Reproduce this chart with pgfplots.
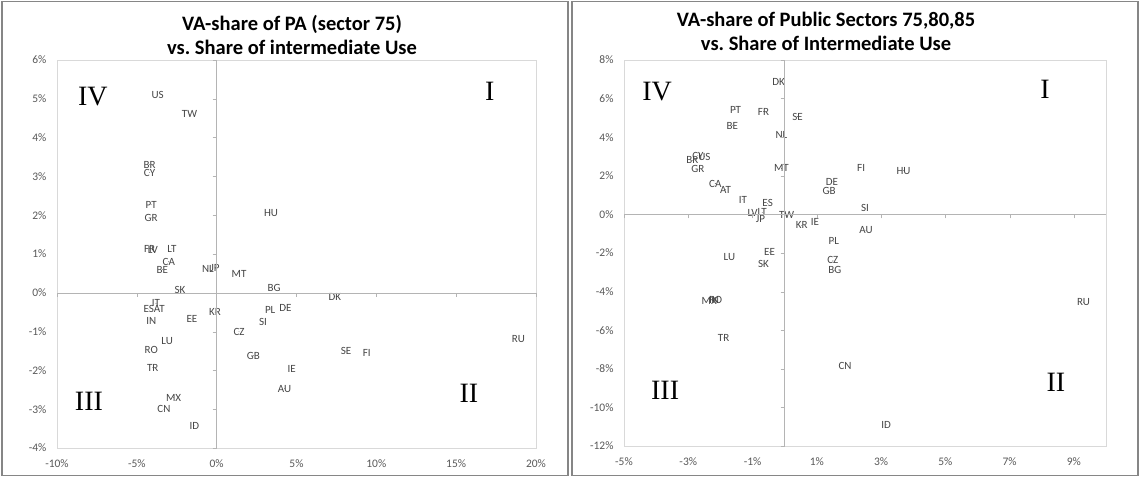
\documentclass[border=0pt]{standalone}
\usepackage{fontspec}
\setmainfont{Carlito}
\newfontfamily\romanfont{Liberation Serif}
\usepackage{pgfplots}
\usepackage{pgfplotstable}
\pgfplotsset{compat=1.18}

\definecolor{frame}{RGB}{134,134,134}
\definecolor{plotedge}{RGB}{217,217,217}
\definecolor{zeroline}{RGB}{180,180,180}
\definecolor{ticktext}{RGB}{89,89,89}
\definecolor{lbl}{RGB}{70,70,70}

% left panel: VA-share of PA (sector 75)
\pgfplotstableread{
x y c
-3.7 5.1 US
-1.7 4.6 TW
-4.2 3.3 BR
-4.2 3.1 CY
-4.1 2.27 PT
-4.1 1.93 GR
3.4 2.06 HU
-4.2 1.14 FR
-4.0 1.11 LV
-2.8 1.13 LT
-3.0 0.8 CA
-3.4 0.6 BE
-0.55 0.62 NL
-0.1 0.65 JP
1.4 0.49 MT
-2.3 0.08 SK
3.6 0.13 BG
-3.8 -0.27 IT
-4.25 -0.42 ES
-3.6 -0.42 AT
-4.1 -0.72 IN
-1.55 -0.68 EE
-0.1 -0.5 KR
3.35 -0.44 PL
4.3 -0.38 DE
2.9 -0.74 SI
1.4 -1.0 CZ
-3.1 -1.24 LU
-4.1 -1.47 RO
2.3 -1.62 GB
-4.0 -1.93 TR
4.7 -1.96 IE
4.25 -2.47 AU
-2.7 -2.7 MX
-3.3 -3.0 CN
-1.4 -3.43 ID
7.4 -0.1 DK
8.1 -1.5 SE
9.4 -1.55 FI
18.9 -1.19 RU
}\leftdata

% right panel: VA-share of public sectors 75,80,85
\pgfplotstableread{
x y c
-0.19 6.87 DK
-1.53 5.43 PT
-0.66 5.32 FR
0.4 5.06 SE
-1.63 4.6 BE
-0.1 4.1 NL
-2.7 3.05 CY
-2.5 3.0 US
-2.87 2.8 BR
-2.7 2.33 GR
-0.1 2.38 MT
-2.16 1.6 CA
-1.84 1.28 AT
1.47 1.7 DE
1.38 1.2 GB
-1.3 0.77 IT
-0.53 0.57 ES
-1.0 0.05 LV
-0.7 0.1 LT
-0.75 -0.26 JP
0.06 -0.05 TW
0.53 -0.57 KR
0.94 -0.4 IE
1.53 -1.4 PL
-0.47 -1.96 EE
-1.72 -2.2 LU
-0.66 -2.58 SK
1.5 -2.38 CZ
1.56 -2.9 BG
2.38 2.42 FI
3.7 2.27 HU
2.5 0.31 SI
2.53 -0.83 AU
9.3 -4.55 RU
1.88 -7.85 CN
3.16 -10.9 ID
-2.35 -4.5 MX
-2.2 -4.45 IN
-2.15 -4.45 RO
-1.9 -6.4 TR
}\rightdata

\tikzset{quadrant/.style={font=\romanfont\fontsize{28}{30}\selectfont}}

\pgfplotsset{
  panel/.style={
    scale only axis, anchor=south west, clip=false,
    axis line style={plotedge},
    major tick length=0pt,
    scaled ticks=false,
    tick label style={font=\fontsize{11.5}{13}\selectfont, text=ticktext},
    /pgf/number format/assume math mode=true,
    xticklabel={\pgfmathprintnumber{\tick}\%},
    yticklabel={\pgfmathprintnumber{\tick}\%},
    xticklabel style={yshift=-8pt},
    yticklabel style={xshift=-7pt},
  },
  zeroaxes/.style={
    scale only axis, anchor=south west,
    axis lines=middle,
    axis line style={zeroline,-},
    xticklabels={}, yticklabels={},
    tick style={zeroline},
    major tick length=4pt,
    tick align=outside,
  },
  labels/.style={
    only marks, mark=*, mark size=0.01pt, mark options={draw=none, fill=none},
    nodes near coords, point meta=explicit symbolic,
    every node near coord/.append style={anchor=center, inner sep=0pt,
      font=\fontsize{11}{12}\selectfont, text=lbl},
  },
}

\begin{document}
\begin{tikzpicture}
\fill[white] (0,0) rectangle (1140pt,477pt);
\useasboundingbox (0,0) rectangle (1140pt,477pt);

\draw[frame, line width=1.3pt] (2pt,1.5pt) rectangle (568pt,475.5pt);
\draw[frame, line width=1.3pt] (572pt,1.5pt) rectangle (1138pt,475.5pt);

% titles
\node[anchor=base, font=\bfseries\fontsize{20.5}{24}\selectfont] at (292pt,446pt) {VA-share of PA (sector 75)};
\node[anchor=base, font=\bfseries\fontsize{20.5}{24}\selectfont] at (292pt,422pt) {vs.\ Share of intermediate Use};
\node[anchor=base, font=\bfseries\fontsize{20.5}{24}\selectfont] at (826pt,450pt) {VA-share of Public Sectors 75,80,85};
\node[anchor=base, font=\bfseries\fontsize{20.5}{24}\selectfont] at (826pt,426pt) {vs.\ Share of Intermediate Use};

% left panel
\begin{axis}[panel, at={(57pt,29pt)}, width=479pt, height=388pt,
  xmin=-10, xmax=20, ymin=-4, ymax=6,
  xtick={-10,-5,...,20}, ytick={-4,-3,...,6}]
  \addplot[labels] table[x=x, y=y, meta=c] {\leftdata};
  \node[quadrant] at (axis cs:-7.75,5.05) {IV};
  \node[quadrant] at (axis cs:17.1,5.2) {I};
  \node[quadrant] at (axis cs:-8,-2.8) {III};
  \node[quadrant] at (axis cs:15.8,-2.6) {II};
\end{axis}
\begin{axis}[zeroaxes, at={(57pt,29pt)}, width=479pt, height=388pt,
  xmin=-10, xmax=20, ymin=-4, ymax=6,
  xtick={-10,-5,...,20}, ytick={-4,-3,...,6}]
\end{axis}

% right panel
\begin{axis}[panel, at={(624pt,31pt)}, width=482pt, height=386pt,
  xmin=-5, xmax=10, ymin=-12, ymax=8,
  xtick={-5,-3,...,9}, ytick={-12,-10,...,8}]
  \addplot[labels] table[x=x, y=y, meta=c] {\rightdata};
  \node[quadrant] at (axis cs:-3.97,6.36) {IV};
  \node[quadrant] at (axis cs:8.1,6.46) {I};
  \node[quadrant] at (axis cs:-3.72,-9.1) {III};
  \node[quadrant] at (axis cs:8.44,-8.7) {II};
\end{axis}
\begin{axis}[zeroaxes, at={(624pt,31pt)}, width=482pt, height=386pt,
  xmin=-5, xmax=10, ymin=-12, ymax=8,
  xtick={-5,-3,...,9}, ytick={-12,-10,...,8}]
\end{axis}
\end{tikzpicture}
\end{document}
